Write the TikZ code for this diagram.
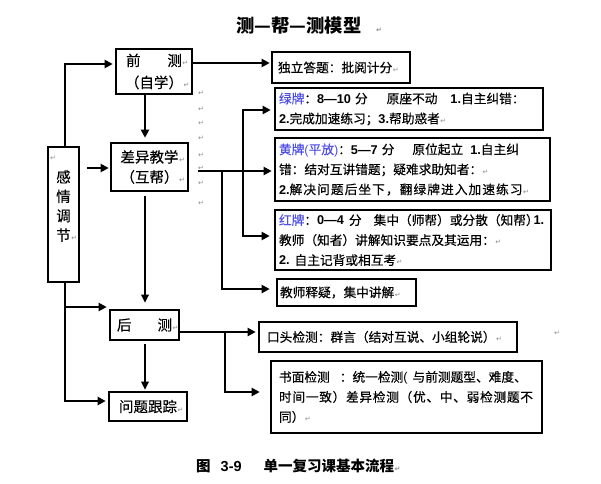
\documentclass[tikz,border=0pt]{standalone}
\usepackage{fontspec}
\setmainfont{Noto Sans CJK SC}
\newfontfamily\bx[FakeBold=0.3]{Noto Sans CJK SC}
\newfontfamily\djv{DejaVu Sans}
\newfontfamily\lat{Liberation Sans}
\usetikzlibrary{arrows.meta}
\definecolor{lbl}{RGB}{80,80,230}
\newcommand\pmk{\hspace{0.5pt}{\djv\fontsize{7}{7}\selectfont\textcolor{black!45}{↵}}}
\newcommand\bd[1]{{\lat\bfseries #1}}
\newcommand\lp{{\lat(}}
\newcommand\rp{{\lat)}}
\makeatletter
\def\jl@loop#1{\ifx\relax#1\else\hfil#1\expandafter\jl@loop\fi}
\def\jl@first#1{#1\jl@loop}
\newcommand\jline[2]{\leavevmode\hbox to #1{\jl@first#2\relax}}
\makeatother
\tikzset{
  box/.style={draw, line width=2.6pt, inner xsep=0pt, inner ysep=0pt, align=left,
    font=\bx\fontsize{12.7}{20}\selectfont},
  mbox/.style={draw, line width=2.6pt, inner sep=0pt, align=center,
    font=\bx\fontsize{14.5}{21}\selectfont},
  arr/.style={-{Triangle[length=8pt,width=8pt]}, line width=2.4pt},
  arrthin/.style={-{Triangle[length=8pt,width=7.5pt]}, line width=1.8pt},
  pmark/.style={inner sep=0pt, font=\djv\fontsize{7}{7}\selectfont, text=black!45}
}
\begin{document}
\begin{tikzpicture}[x=1pt,y=-1pt]
\fill[white] (0,0) rectangle (601,483);
\useasboundingbox (0,0) rectangle (601,483);

% title
\node[inner sep=0pt, font=\bfseries\fontsize{18.3}{20}\selectfont] (title) at (299,26)
  {测—帮—测模型\rlap{\hspace{14pt}\pmk}};

% left column boxes
\node[mbox, minimum width=76pt, minimum height=45pt, font=\bx\fontsize{14.5}{22}\selectfont] (A) at (154,71.5)
  {前\hspace{1.85em}测\rlap{\pmk}\\（自学）\rlap{\pmk}};
\node[mbox, minimum width=77pt, minimum height=48pt, font=\bx\fontsize{14.5}{20}\selectfont] (B) at (149.5,167)
  {差异教学\rlap{\pmk}\\（互帮）\rlap{\pmk}};
\node[mbox, minimum width=31pt, minimum height=135pt] (E) at (63.5,214.5) {};
\node[inner sep=0pt, align=center, font=\bx\fontsize{14.5}{19.4}\selectfont] (Et) at (63.5,206)
  {感\\情\\调\\节\rlap{\pmk}};
\node[pmark] (pE) at (53,158) {↵};
\node[mbox, minimum width=69pt, minimum height=30pt] (H) at (144.5,325)
  {后\hspace{1.8em}测\rlap{\pmk}};
\node[mbox, minimum width=78pt, minimum height=29pt] (Q) at (148,406.5)
  {问题跟踪\rlap{\pmk}};

% right column boxes
\node[box, minimum width=138pt, minimum height=31pt, text width=126pt] (I) at (341,67.5)
  {独立答题：批阅计分\pmk};
\node[box, minimum width=268pt, minimum height=42pt, text width=260pt] (G) at (409,109)
  {\textcolor{lbl}{绿牌}：\bd{8—10}\hspace{4pt}分\hspace{19pt}原座不动\hspace{13pt}\bd{1.}自主纠错：\\
   \bd{2.}完成加速练习；\bd{3.}帮助惑者\pmk};
\node[box, minimum width=275pt, minimum height=63pt, text width=267pt] (Y) at (412.5,169.5)
  {\textcolor{lbl}{黄牌\lp 平放\rp}：\bd{5—7}\hspace{4pt}分\hspace{18pt}原位起立\hspace{7pt}\bd{1.}自主纠\\
   错：结对互讲错题；疑难求助知者：\pmk\\
   \bd{2.}\jline{233pt}{解决问题后坐下，翻绿牌进入加速练习}\pmk};
\node[box, minimum width=276pt, minimum height=60pt, text width=268pt] (R) at (413,240)
  {\textcolor{lbl}{红牌}：\bd{0—4}\hspace{5pt}分\hspace{12pt}\jline{160pt}{集中（师帮）或分散（知帮）}\bd{1.}\\
   教师（知者）讲解知识要点及其运用：\pmk\\
   \bd{2.}\hspace{5pt}自主记背或相互考\pmk};
\node[box, minimum width=139pt, minimum height=27pt, text width=133pt] (T) at (346.5,292.5)
  {教师释疑，集中讲解\pmk};
\node[box, minimum width=258pt, minimum height=30pt, text width=242pt] (K) at (388,337)
  {口头检测：群言（结对互说、小组轮说）\pmk};
\node[box, minimum width=271pt, minimum height=72pt, text width=255pt] (W) at (406.5,397)
  {书面检测\hspace{10pt}：统一检测\lp\hspace{5pt}与前测题型、难度、\\
   \jline{254pt}{时间一致）差异检测（优、中、弱检测题不}\\
   同）\pmk};

% stray paragraph marks
\foreach \yy [count=\i] in {93,109,123,138,155,168,183,203}
  \node[pmark] (pc\i) at (201,\yy) {↵};
\node[pmark] (ps) at (557,333) {↵};

% caption
\node[inner sep=0pt, anchor=west, font=\bfseries\fontsize{14.5}{16}\selectfont] (cap) at (196,466)
  {图\hspace{10pt}\bd{3-9}\hspace{22pt}单一复习课基本流程\pmk};

% connectors
\draw[arr, shorten >=2pt] (E.north -| 65,0) |- (A.west |- 0,64);
\draw[arr, shorten >=1pt] (A.east |- 0,63) -- (I.west |- 0,63);
\draw[arr, shorten >=4pt] (A.south -| 145,0) -- (B.north -| 145,0);
\coordinate (f1) at (87,168);
\draw[arr, shorten >=1pt] (f1) -- (B.west |- f1);
\coordinate (s1) at (198,171);
\draw[arr, shorten >=2pt] (s1) -- (Y.west |- s1);
\coordinate (j1) at (222,171);
\draw[arr, shorten >=6pt] (j1) |- (T.west |- 0,289);
\coordinate (j3) at (243,236);
\draw[{Triangle[length=8pt,width=8pt]}-{Triangle[length=8pt,width=8pt]}, line width=2.4pt,
  shorten <=3pt, shorten >=4pt] (G.west |- 0,110) -| (j3) -- (R.west |- j3);
\draw[arr, shorten >=2pt] (E.south -| 65,0) |- (Q.west |- 0,401);
\coordinate (j4) at (65,307);
\draw[arr, shorten >=2pt] (j4) -- (H.west |- j4);
\draw[arrthin, shorten <=4pt, shorten >=6pt] (B.south -| 145,0) -- (H.north -| 145,0);
\draw[arrthin, shorten <=3pt, shorten >=1pt] (H.south -| 145,0) -- (Q.north -| 145,0);
\draw[arr, shorten >=2pt] (H.east |- 0,332) -- (K.west |- 0,332);
\coordinate (j5) at (225,332);
\draw[arr, shorten >=10pt] (j5) |- (W.west |- 0,392);
\end{tikzpicture}
\end{document}
